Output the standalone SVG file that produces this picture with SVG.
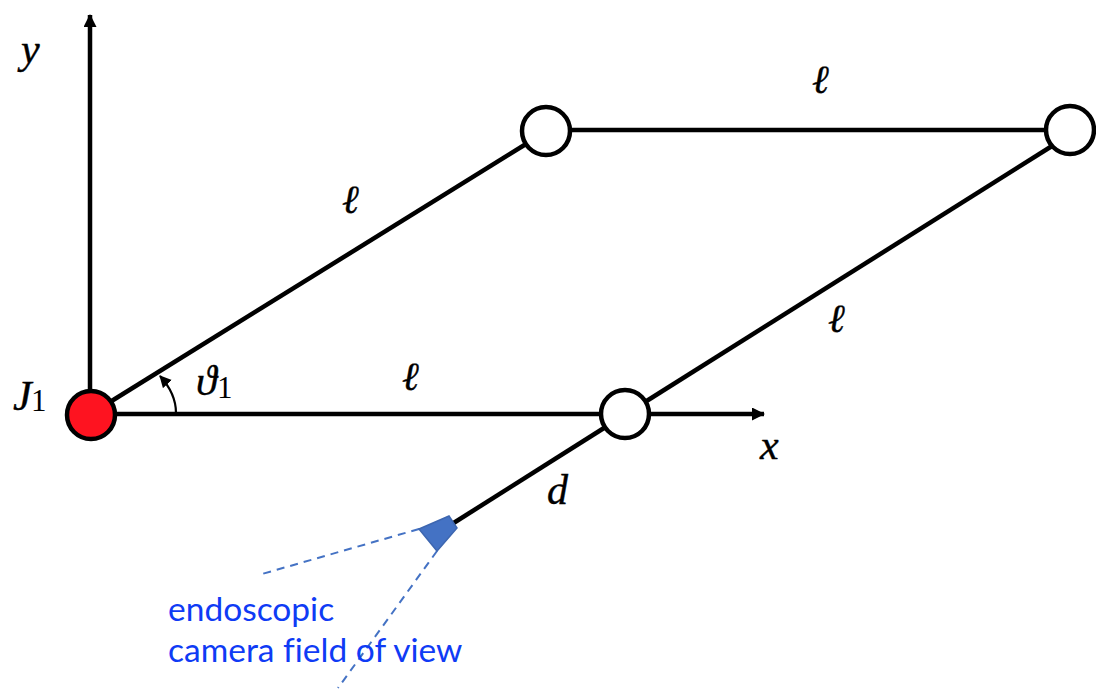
<svg xmlns="http://www.w3.org/2000/svg" width="1096" height="696" viewBox="0 0 1096 696">
<style>
.l{fill:none;stroke:#000;stroke-width:4.5}
.j{fill:#fff;stroke:#000;stroke-width:4.5}
.d{fill:none;stroke:#4472c4;stroke-width:2;stroke-dasharray:8 6}
.m{font-family:"Liberation Serif","DejaVu Serif",serif;font-style:italic;font-size:42px;fill:#000;stroke:#000;stroke-width:.4}
.e{font-family:"DejaVu Serif","Liberation Serif",serif;font-style:italic;font-size:40px;fill:#000;stroke:#000;stroke-width:.4}
.s{font-family:"Liberation Serif",serif;font-size:31px;fill:#000}
.b{font-family:Lato,"Open Sans","Liberation Sans",sans-serif;font-size:33.5px;font-variant-ligatures:none;fill:#0f3bf5}
</style>
<defs>
<marker id="a" markerUnits="userSpaceOnUse" markerWidth="14" markerHeight="14" refX="12" refY="6.5" orient="auto"><path d="M0 0L13 6.5L0 13Z" fill="#000"/></marker>
<marker id="a2" markerUnits="userSpaceOnUse" markerWidth="14" markerHeight="14" refX="11" refY="6" orient="auto"><path d="M0 0L12 6L0 12Z" fill="#000"/></marker>
</defs>
<g id="connectors">
<path class="l" d="M90 392V15" marker-end="url(#a)"/>
<path class="l" d="M113 414H764" marker-end="url(#a)"/>
<path class="l" d="M110 402L526 144"/>
<path class="l" d="M569 130H1047"/>
<path class="l" d="M645 402L1052 146"/>
<path class="l" d="M604 428L452 524"/>
<path d="M176 413C176 399 170 387 160 376" fill="none" stroke="#000" stroke-width="2.2" marker-end="url(#a2)"/>
<path class="d" d="M419 529L262 574"/>
<path class="d" d="M437 551L338 688"/>
</g>
<g id="J1"><circle cx="91" cy="415" r="24" fill="#fe1320" stroke="#000" stroke-width="4.5"/></g>
<g id="joint-top"><circle class="j" cx="546" cy="131" r="24"/></g>
<g id="joint-right"><circle class="j" cx="1070" cy="130" r="24"/></g>
<g id="joint-bottom"><circle class="j" cx="625" cy="414" r="24"/></g>
<g id="camera"><path d="M419 529L449 516L457 528L437 551Z" fill="#4472c4" stroke="#3d66b0" stroke-width="1.5"/></g>
<g id="labels">
<text class="m" x="21" y="63">y</text>
<text class="m" x="13" y="410">J</text><text class="s" x="31" y="411">1</text>
<text class="m" x="196" y="395">ϑ</text><text class="s" x="217" y="398">1</text>
<text class="m" x="760" y="459">x</text>
<text class="m" x="547" y="504">d</text>
<text class="e" x="812" y="93">ℓ</text>
<text class="e" x="342" y="213">ℓ</text>
<text class="e" x="402" y="390">ℓ</text>
<text class="e" x="828" y="332">ℓ</text>
<text class="b" x="168" y="621">endoscopic</text>
<text class="b" x="168" y="662">camera field of view</text>
</g>
</svg>
